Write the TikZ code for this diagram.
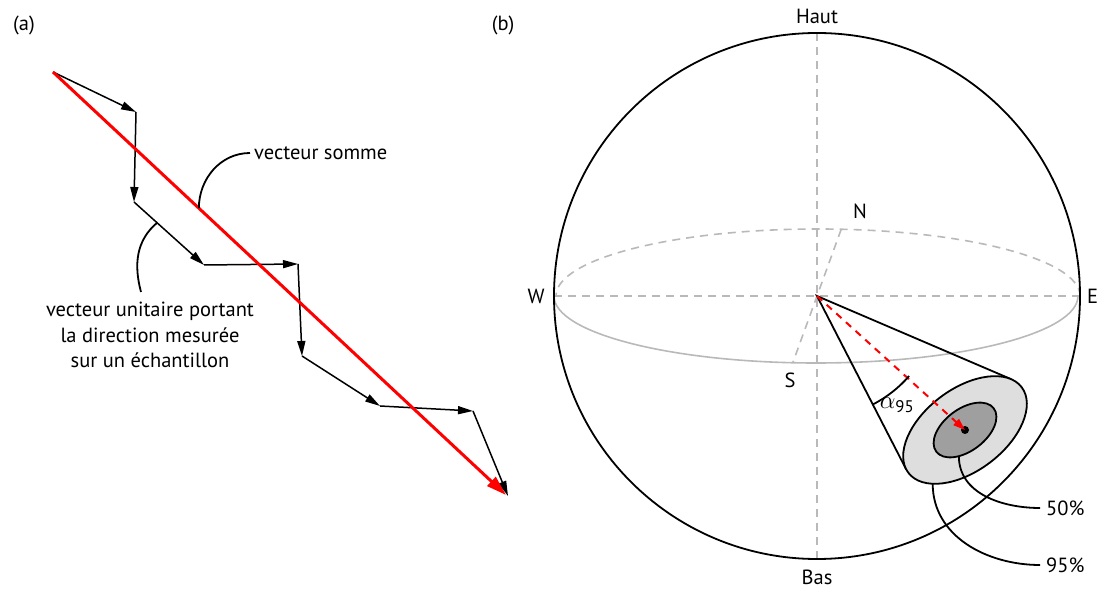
\documentclass[tikz,border=0pt]{standalone}
\usepackage{fontspec}
\setmainfont{PT Sans}
\usetikzlibrary{arrows.meta, calc}

\tikzset{
	vec/.style={line width=1.5pt, -{Triangle[length=15pt,width=8pt]}},
	somme/.style={red, line width=3pt, -{Triangle[length=20pt,width=12pt]}},
	guide/.style={gray!55, line width=1.6pt, dash pattern=on 8pt off 6pt},
	equat/.style={gray!55, line width=1.6pt},
	trait/.style={line width=1.8pt},
	axe/.style={red, line width=2pt, dash pattern=on 7pt off 6pt, -{Triangle[length=12pt,width=8pt]}},
	lbl/.style={font=\fontsize{20.5}{24}\selectfont, inner sep=0pt},
	pct/.style={lbl, anchor=west, inner xsep=6pt},
}

\begin{document}
\begin{tikzpicture}[x=1pt,y=1pt]
	\useasboundingbox (0,0) rectangle (1097,589);

	% (a) somme des vecteurs unitaires
	\node[lbl] (la) at (24,564) {(a)};
	\coordinate (p0) at (53,517);
	\coordinate (p1) at (136,477);
	\coordinate (p2) at (134,387);
	\coordinate (p3) at (204,324);
	\coordinate (p4) at (298,325);
	\coordinate (p5) at (302,233);
	\coordinate (p6) at (380,183);
	\coordinate (p7) at (473,178);
	\coordinate (p8) at (508,93);
	\foreach \a/\b in {p0/p1,p1/p2,p2/p3,p3/p4,p4/p5,p5/p6,p6/p7,p7/p8}
		\draw[vec] (\a) -- (\b);
	\coordinate (r1) at (506,94);
	\draw[somme] (p0) -- (r1);

	\node[lbl, anchor=west] (vsomme) at (254,436) {vecteur somme};
	\draw[trait] ([xshift=-4pt]vsomme.west) to[out=180,in=90] ($(p0)!0.322!(r1)$);
	\node[lbl, align=center, font=\fontsize{20.5}{25.5}\selectfont] (unit) at (150,254)
		{vecteur unitaire portant\\la direction mesurée\\sur un échantillon};
	\coordinate (c2) at (141,297);
	\draw[trait] ($(p2)!0.33!(p3)$) to[out=220,in=105] (c2);

	% (b) sphere
	\node[lbl] (lb) at (503,564) {(b)};
	\coordinate (o) at (817,293);
	\coordinate (top) at (817,556);
	\coordinate (bot) at (817,30);
	\coordinate (west) at (554,293);
	\coordinate (east) at (1080,293);
	\coordinate (n) at ($(o)+(84.7:262 and 67)$);
	\coordinate (s) at ($(o)+(264.7:262 and 67)$);
	\draw[guide] (top) -- (bot);
	\draw[guide] (west) -- (east);
	\draw[guide] (n) -- (s);
	\draw[guide] (east) arc[start angle=0, end angle=180, x radius=262, y radius=67];
	\draw[equat] (west) arc[start angle=180, end angle=360, x radius=262, y radius=67];
	\draw[trait] (o) circle[radius=263];

	\node[lbl] (haut) at (817,573) {Haut};
	\node[lbl] (bas) at (817,12) {Bas};
	\node[lbl] (w) at (536,293) {W};
	\node[lbl, anchor=west] (e) at (1087,293) {E};
	\node[lbl] (nl) at (860,378) {N};
	\node[lbl] (sl) at (790,209) {S};

	% cone de confiance
	\begin{scope}[shift={(965,159)}, rotate=37]
		\coordinate (ctr) at (0,0);
		\coordinate (t1) at (18.2:71 and 41);
		\coordinate (t2) at (174.2:71 and 41);
		\coordinate (b95) at (215:71 and 41);
		\coordinate (b50) at (235:36 and 21);
	\end{scope}
	\draw[trait] (t1) -- (o) -- (t2);
	\begin{scope}[shift={(965,159)}, rotate=37]
		\draw[trait, fill=gray!26] (ctr) ellipse[x radius=71, y radius=41];
		\draw[trait, fill=gray!75] (ctr) ellipse[x radius=36, y radius=21];
	\end{scope}
	\fill (ctr) circle[radius=4];
	\draw[axe] (o) -- (ctr);
	\draw[trait] (o) ++(-63:122) arc[start angle=-63, end angle=-41, radius=122];
	\node[lbl] (alpha) at (897,184) {\fontsize{24}{24}\selectfont$\alpha$\textsubscript{95}};

	\node[pct] (p50) at (1040,81) {50\%};
	\node[pct] (p95) at (1040,24) {95\%};
	\draw[trait] (b50) to[out=-90,in=180] (p50.west);
	\draw[trait] (b95) to[out=-90,in=180] (p95.west);
\end{tikzpicture}
\end{document}
